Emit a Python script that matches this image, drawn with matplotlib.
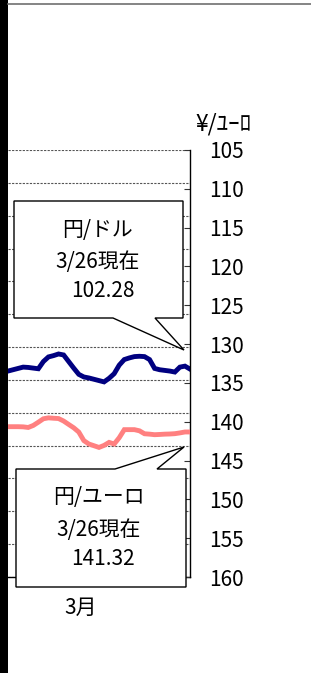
import matplotlib
matplotlib.use("Agg")
import matplotlib.pyplot as plt
from matplotlib.patches import Polygon, Rectangle
from matplotlib.lines import Line2D

# ---- data ----
days = list(range(37))
usd_jpy = [102.27, 102.31, 102.35, 102.39, 102.38, 102.36, 102.34, 102.56, 102.70, 102.74,
           102.79, 102.76, 102.56, 102.36, 102.17, 102.09, 102.06, 102.02, 101.98, 101.94,
           102.05, 102.19, 102.45, 102.62, 102.67, 102.71, 102.72, 102.71, 102.62, 102.35,
           102.31, 102.29, 102.27, 102.24, 102.39, 102.42, 102.33]
eur_jpy = [140.64, 140.64, 140.64, 140.66, 140.74, 140.48, 140.06, 139.62, 139.50, 139.55,
           139.59, 139.91, 140.35, 140.78, 141.33, 142.43, 142.87, 143.09, 143.31, 143.05,
           142.66, 142.87, 142.06, 141.02, 141.02, 141.02, 141.17, 141.55, 141.60, 141.67,
           141.64, 141.60, 141.58, 141.54, 141.44, 141.32, 141.32]
right_ticks = [105, 110, 115, 120, 125, 130, 135, 140, 145, 150, 155, 160]
left_grid = list(range(96, 110))
right_title = "¥/ﾕｰﾛ"
month_label = "3月"
callout_usd = ["円/ドル", "3/26現在", "102.28"]
callout_eur = ["円/ユーロ", "3/26現在", "141.32"]

plt.rcParams['font.family'] = ['Noto Sans CJK JP', 'DejaVu Sans']
FS = 15

W, H = 311, 673
fig = plt.figure(figsize=(W / 100, H / 100), dpi=100)
fig.patch.set_facecolor('white')

def px(x, y):
    return (x / W, 1 - y / H)

ax_l, ax_r, ax_t, ax_b = 8, 190, 150, 577
ax = fig.add_axes([ax_l / W, 1 - ax_b / H, (ax_r - ax_l) / W, (ax_b - ax_t) / H])
ax2 = ax.twinx()

ax.plot(days, usd_jpy, color='#000080', lw=3.5, solid_joinstyle='miter', zorder=3)
ax.set_ylim(96, 109)
ax.set_xlim(0, 36)
ax.set_yticks(left_grid)
ax.tick_params(axis='y', left=False, labelleft=False)
ax.tick_params(axis='x', bottom=False, labelbottom=False)
ax.grid(axis='y', color='#555555', lw=0.8, linestyle=(0, (2, 1.2)))
for s in ['left', 'top', 'right']:
    ax.spines[s].set_visible(False)
ax.spines['bottom'].set_color('black')
ax.spines['bottom'].set_linewidth(1.0)

ax2.plot(days, eur_jpy, color='#FF8080', lw=3.5, solid_joinstyle='miter', zorder=3)
ax2.set_ylim(160, 105)
ax2.set_yticks(right_ticks)
ax2.set_yticklabels([str(t) for t in right_ticks])
ax2.tick_params(axis='y', direction='in', length=4.5, width=0.8, color='#333333',
                pad=14, labelsize=FS)
for lab in ax2.get_yticklabels():
    lab.set_horizontalalignment('left')
for s in ['left', 'top', 'bottom']:
    ax2.spines[s].set_visible(False)
ax2.spines['right'].set_color('black')
ax2.spines['right'].set_linewidth(1.0)

# right axis title
fig.text(*px(195, 124), right_title, fontsize=16.5, ha='left', va='center')

# month label
fig.text(*px(81, 608), month_label, fontsize=FS, ha='center', va='center')

# callouts
def callout(pts, lines, centers):
    poly = Polygon([px(x, y) for x, y in pts], closed=True, transform=fig.transFigure,
                   facecolor='white', edgecolor='black', lw=1.0, zorder=5)
    fig.add_artist(poly)
    for t, (cx, cy) in zip(lines, centers):
        fig.text(*px(cx, cy), t, fontsize=FS, ha='center', va='center', zorder=6)

callout([(14, 201), (183, 201), (183, 318), (155, 318), (184, 350), (113, 318), (14, 318)],
        callout_usd, [(98, 230), (97.5, 262), (103, 291)])
callout([(16, 469), (115, 469), (184, 447), (157, 469), (186, 469), (186, 587), (16, 587)],
        callout_eur, [(99, 497), (99, 530), (102.5, 559)])

# decorations: black bar at left and grey line at top
fig.add_artist(Rectangle(px(0, 673), 8 / W, 1, transform=fig.transFigure,
                         facecolor='black', edgecolor='none', zorder=10))
fig.add_artist(Line2D([8 / W, 1], [1 - 4 / H, 1 - 4 / H], transform=fig.transFigure,
                      color='#707070', lw=1.2, zorder=10))

fig.savefig('out.png', dpi=100, facecolor='white')
